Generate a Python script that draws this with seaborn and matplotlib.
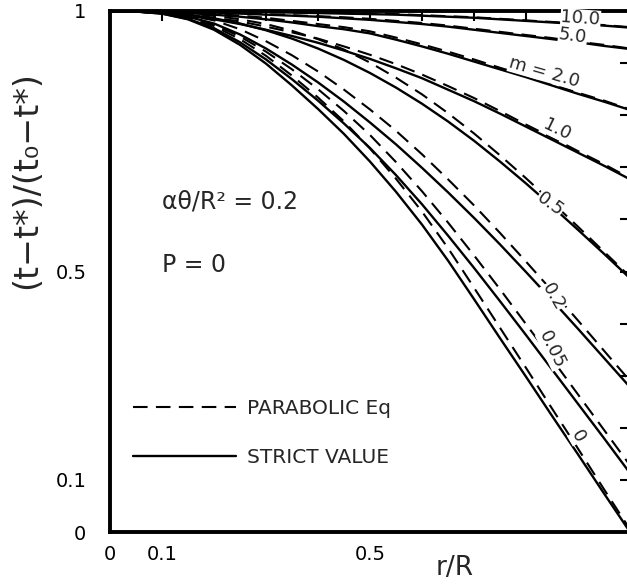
import matplotlib
matplotlib.use("Agg")
import matplotlib.pyplot as plt
from matplotlib.lines import Line2D
import seaborn as sns
import pandas as pd

# ---- data ----
r = [0.0, 0.05, 0.1, 0.15, 0.2, 0.25, 0.3, 0.35, 0.4, 0.45, 0.5,
     0.55, 0.6, 0.65, 0.7, 0.75, 0.8, 0.85, 0.9, 0.95, 1.0]
m_labels = ["10.0", "5.0", "2.0", "1.0", "0.5", "0.2", "0.05", "0"]

# strict value (solid)
strict_10 = [1.0, 1.0, 1.0, 0.999, 0.999, 0.998, 0.998, 0.997, 0.996, 0.995, 0.994,
             0.993, 0.991, 0.989, 0.987, 0.984, 0.981, 0.978, 0.975, 0.972, 0.968]
strict_5 = [1.0, 1.0, 0.999, 0.998, 0.997, 0.995, 0.993, 0.991, 0.989, 0.986, 0.983,
            0.979, 0.975, 0.970, 0.964, 0.958, 0.952, 0.946, 0.940, 0.933, 0.927]
strict_2 = [1.0, 1.0, 0.998, 0.996, 0.993, 0.989, 0.984, 0.978, 0.971, 0.965, 0.957,
            0.945, 0.932, 0.918, 0.903, 0.888, 0.873, 0.857, 0.841, 0.826, 0.810]
strict_1 = [1.0, 0.999, 0.996, 0.991, 0.984, 0.975, 0.964, 0.952, 0.939, 0.924, 0.908,
            0.890, 0.871, 0.849, 0.827, 0.803, 0.778, 0.753, 0.728, 0.703, 0.677]
strict_05 = [1.0, 0.999, 0.997, 0.993, 0.986, 0.976, 0.963, 0.947, 0.928, 0.906, 0.881,
             0.853, 0.822, 0.788, 0.751, 0.711, 0.669, 0.625, 0.580, 0.534, 0.487]
strict_02 = [1.0, 0.999, 0.996, 0.989, 0.976, 0.955, 0.928, 0.897, 0.863, 0.826, 0.786,
             0.744, 0.699, 0.652, 0.603, 0.552, 0.499, 0.445, 0.390, 0.334, 0.278]
strict_005 = [1.0, 0.999, 0.995, 0.985, 0.967, 0.940, 0.907, 0.869, 0.828, 0.784, 0.737,
              0.685, 0.629, 0.569, 0.507, 0.443, 0.378, 0.312, 0.246, 0.180, 0.113]
strict_0 = [1.0, 0.999, 0.995, 0.984, 0.964, 0.935, 0.899, 0.857, 0.812, 0.764, 0.711,
            0.653, 0.590, 0.521, 0.447, 0.372, 0.298, 0.223, 0.149, 0.074, 0.0]

# parabolic equation (dashed)
parab_10 = [1.0, 1.0, 1.0, 0.999, 0.999, 0.999, 0.998, 0.997, 0.997, 0.996, 0.995,
            0.994, 0.992, 0.990, 0.988, 0.985, 0.982, 0.979, 0.976, 0.973, 0.969]
parab_5 = [1.0, 1.0, 0.999, 0.998, 0.997, 0.996, 0.994, 0.992, 0.990, 0.988, 0.985,
           0.981, 0.977, 0.972, 0.966, 0.960, 0.954, 0.948, 0.941, 0.935, 0.928]
parab_2 = [1.0, 1.0, 0.998, 0.997, 0.995, 0.991, 0.987, 0.981, 0.975, 0.969, 0.961,
           0.949, 0.936, 0.922, 0.907, 0.891, 0.876, 0.860, 0.843, 0.828, 0.811]
parab_1 = [1.0, 0.999, 0.997, 0.993, 0.987, 0.980, 0.970, 0.959, 0.947, 0.932, 0.916,
           0.898, 0.878, 0.856, 0.833, 0.808, 0.782, 0.757, 0.731, 0.706, 0.679]
parab_05 = [1.0, 0.999, 0.998, 0.995, 0.991, 0.984, 0.975, 0.962, 0.946, 0.926, 0.901,
            0.872, 0.840, 0.804, 0.765, 0.723, 0.679, 0.633, 0.586, 0.538, 0.490]
parab_02 = [1.0, 0.999, 0.997, 0.992, 0.982, 0.965, 0.942, 0.915, 0.884, 0.849, 0.811,
            0.770, 0.725, 0.677, 0.627, 0.574, 0.519, 0.463, 0.406, 0.348, 0.290]
parab_005 = [1.0, 0.999, 0.996, 0.988, 0.974, 0.951, 0.922, 0.888, 0.850, 0.808, 0.762,
             0.710, 0.654, 0.594, 0.531, 0.466, 0.399, 0.332, 0.264, 0.196, 0.128]
parab_0 = [1.0, 0.999, 0.996, 0.987, 0.971, 0.946, 0.914, 0.876, 0.834, 0.788, 0.736,
           0.678, 0.615, 0.545, 0.469, 0.392, 0.315, 0.237, 0.160, 0.082, 0.005]

strict = [strict_10, strict_5, strict_2, strict_1, strict_05, strict_02, strict_005, strict_0]
parab = [parab_10, parab_5, parab_2, parab_1, parab_05, parab_02, parab_005, parab_0]

y_ticks = [0.0, 0.1, 0.2, 0.3, 0.4, 0.5, 0.6, 0.7, 0.8, 0.9, 1.0]
y_ticklabels = ["0", "0.1", "", "", "", "0.5", "", "", "", "", "1"]
x_ticks = [0.0, 0.1, 0.2, 0.3, 0.4, 0.5, 0.6, 0.7, 0.8, 0.9, 1.0]
x_ticklabels = ["0", "0.1", "", "", "", "0.5", "", "", "", "", ""]

# curve label positions (data coords) and rotations
label_x = [0.905, 0.89, 0.835, 0.86, 0.846, 0.852, 0.85, 0.9]
label_y = [0.985, 0.951, 0.883, 0.773, 0.629, 0.452, 0.35, 0.183]
label_rot = [-4, -8, -16, -26, -36, -60, -64, -60]
label_text = ["10.0", "5.0", "m = 2.0", "1.0", "0.5", "0.2", "0.05", "0"]

# ---- figure ----
sns.set_theme(style="white")
plt.rcParams["font.family"] = ["DejaVu Sans"]

W, H = 627, 588
fig = plt.figure(figsize=(W / 100, H / 100), dpi=100)
x0, x1, ytop, ybot = 110, 630, 11, 532
ax = fig.add_axes([x0 / W, (H - ybot) / H, (x1 - x0) / W, (ybot - ytop) / H])

rows = []
for lab, s, p in zip(m_labels, strict, parab):
    for rv, sv, pv in zip(r, s, p):
        rows.append({"r": rv, "v": sv, "m": lab, "kind": "STRICT VALUE"})
        rows.append({"r": rv, "v": pv, "m": lab, "kind": "PARABOLIC Eq"})
df = pd.DataFrame(rows)

for lab in m_labels:
    d = df[(df.m == lab) & (df.kind == "STRICT VALUE")]
    sns.lineplot(data=d, x="r", y="v", ax=ax, color="black", lw=1.7,
                 estimator=None, sort=True, legend=False)
    d = df[(df.m == lab) & (df.kind == "PARABOLIC Eq")]
    sns.lineplot(data=d, x="r", y="v", ax=ax, color="black", lw=1.5,
                 estimator=None, sort=True, legend=False,
                 linestyle=(0, (7, 4)))

ax.set_xlim(0, 1)
ax.set_ylim(0, 1)
ax.set_xticks(x_ticks)
ax.set_xticklabels(x_ticklabels)
ax.set_yticks(y_ticks)
ax.set_yticklabels(y_ticklabels)
ax.tick_params(axis="both", direction="in", length=7, width=1.5, top=True,
               right=True, labelsize=14, colors="black")
ax.tick_params(axis="y", pad=17)
ax.tick_params(axis="x", pad=9)
for s in ax.spines.values():
    s.set_linewidth(2.8)
    s.set_color("black")
ax.set_xlabel("")
ax.set_ylabel("")

fig.text(27 / W, 1 - 180 / H, "(t−t*)/(t₀−t*)", rotation=90, fontsize=24,
         ha="center", va="center")
fig.text(455 / W, 1 - 568 / H, "r/R", fontsize=19, ha="center", va="center")

ax.text(0.1, 0.62, "αθ/R² = 0.2", fontsize=17, transform=ax.transAxes)
ax.text(0.1, 0.5, "P = 0", fontsize=17, transform=ax.transAxes)

for t, xx, yy, rot in zip(label_text, label_x, label_y, label_rot):
    ax.text(xx, yy, t, fontsize=13, rotation=rot, ha="center", va="center",
            bbox=dict(facecolor="white", edgecolor="none", pad=0.3))

h = [Line2D([], [], color="black", lw=1.5, linestyle=(0, (7, 4))),
     Line2D([], [], color="black", lw=1.7)]
ax.legend(h, ["PARABOLIC Eq", "STRICT VALUE"], loc="upper left",
          bbox_to_anchor=(0.01, 0.29), frameon=False, fontsize=14.5,
          handlelength=5.1, labelspacing=1.5, handletextpad=0.55)

fig.savefig("out.png", dpi=100, facecolor="white")
